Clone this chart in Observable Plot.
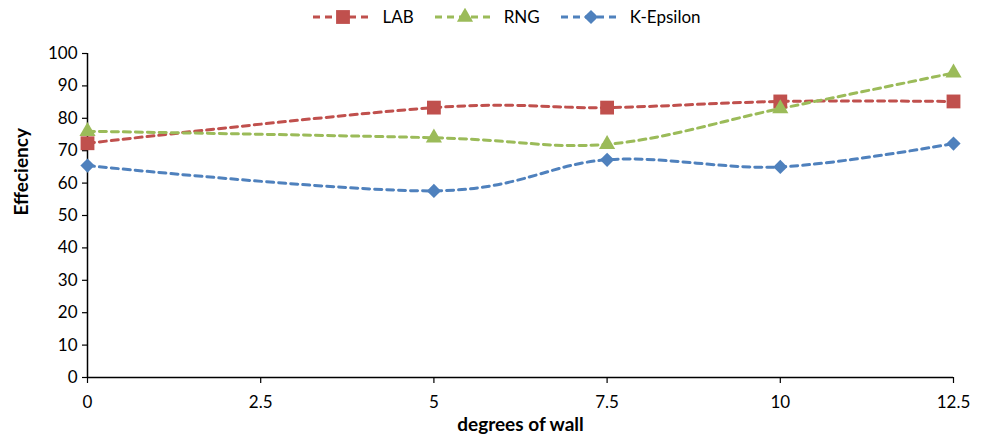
<!DOCTYPE html>
<html>
<head>
<meta charset="utf-8">
<script src="https://cdn.jsdelivr.net/npm/d3@7"></script>
<script src="https://cdn.jsdelivr.net/npm/@observablehq/plot@0.6"></script>
<style>
  html, body { margin: 0; padding: 0; background: #fff; }
  #wrap { position: relative; width: 983px; height: 441px; font-family: Lato, "Open Sans", sans-serif; }
  #legend { position: absolute; top: 6px; left: 0; width: 983px; display: flex; justify-content: center; gap: 20px; font-size: 17px; color: #000; padding-left: 30px; box-sizing: border-box; }
  .item { display: flex; align-items: center; gap: 8px; }
</style>
</head>
<body>
<div id="wrap">
  <div id="legend"></div>
  <div id="chart"></div>
</div>
<script>
const degrees = [0, 5, 7.5, 10, 12.5];
const seriesNames = ["LAB", "RNG", "K-Epsilon"];
const lab = [72.3, 83.3, 83.3, 85.2, 85.2];
const rng = [76, 74, 72, 83, 94];
const kEpsilon = [65.4, 57.6, 67.2, 65, 72.2];
const xTicks = [0, 2.5, 5, 7.5, 10, 12.5];
const yTicks = [0, 10, 20, 30, 40, 50, 60, 70, 80, 90, 100];
const colors = ["#C0504D", "#9BBB59", "#4F81BD"];
const symbols = ["square", "triangle", "diamond2"];
const markerR = [7.8, 6, 6.4];

const valuesBySeries = [lab, rng, kEpsilon];
const data = [];
seriesNames.forEach((s, i) => degrees.forEach((d, j) => data.push({series: s, x: d, y: valuesBySeries[i][j]})));

const chart = Plot.plot({
  width: 983,
  height: 441,
  marginTop: 53,
  marginBottom: 64,
  marginLeft: 87,
  marginRight: 30,
  style: {fontFamily: "Lato, 'Open Sans', sans-serif", fontSize: "17px", color: "#000", background: "#fff"},
  x: {domain: [0, 12.5]},
  y: {domain: [0, 100]},
  color: {domain: seriesNames, range: colors},
  symbol: {domain: seriesNames, range: symbols},
  marks: [
    Plot.ruleX([0], {stroke: "#000", strokeWidth: 1.5}),
    Plot.ruleY([0], {stroke: "#000", strokeWidth: 1.5}),
    Plot.axisY({ticks: yTicks, tickSize: 5, tickPadding: 5, stroke: "#000", strokeWidth: 1.2, label: null, fontSize: 17}),
    Plot.axisX({ticks: xTicks, tickSize: 6, tickPadding: 12, stroke: "#000", strokeWidth: 1.2, label: null, fontSize: 17, tickFormat: d => String(d)}),
    Plot.text(["Effeciency"], {frameAnchor: "left", dx: -66, rotate: -90, fontWeight: "bold", fontSize: 19}),
    Plot.text(["degrees of wall"], {frameAnchor: "bottom", dy: 53, fontWeight: "bold", fontSize: 19}),
    Plot.line(data, {x: "x", y: "y", z: "series", stroke: "series", strokeWidth: 3, strokeDasharray: "7,5", curve: "cardinal"}),
    ...seriesNames.map((s, i) => Plot.dot(data.filter(d => d.series === s), {x: "x", y: "y", fill: "series", symbol: "series", r: markerR[i], stroke: null}))
  ]
});
document.getElementById("chart").appendChild(chart);

const legend = document.getElementById("legend");
seriesNames.forEach((s, i) => {
  const item = document.createElement("div");
  item.className = "item";
  const sw = d3.create("svg").attr("width", 62).attr("height", 18);
  sw.append("line").attr("x1", 1).attr("x2", 61).attr("y1", 9).attr("y2", 9)
    .attr("stroke", colors[i]).attr("stroke-width", 3).attr("stroke-dasharray", "7,5");
  const sym = {square: d3.symbolSquare, triangle: d3.symbolTriangle, diamond2: d3.symbolDiamond2}[symbols[i]];
  sw.append("path").attr("transform", "translate(31,9)").attr("d", d3.symbol(sym, markerR[i] * markerR[i] * Math.PI)()).attr("fill", colors[i]);
  item.appendChild(sw.node());
  const t = document.createElement("span");
  t.textContent = s;
  item.appendChild(t);
  legend.appendChild(item);
});
</script>
</body>
</html>
